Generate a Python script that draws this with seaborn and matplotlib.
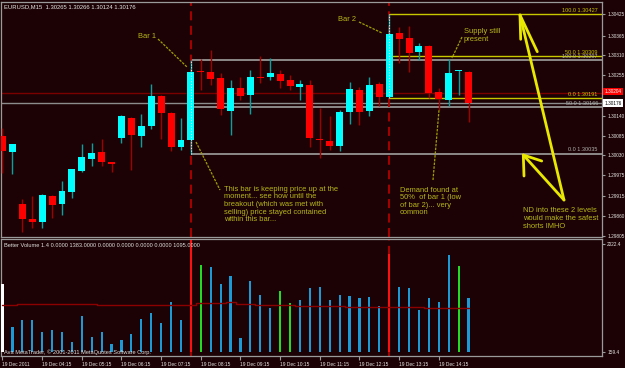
import numpy as np
import pandas as pd
import matplotlib
matplotlib.use("Agg")
import matplotlib.pyplot as plt
import matplotlib.transforms as mtrans
import seaborn as sns

# EURUSD M15, 19 Dec 2011, one bar every 15 minutes starting 03:15
opens = [1.30085, 1.30039, 1.29894, 1.29852, 1.29842, 1.29917, 1.29893, 1.29928, 1.29987, 1.30019,
         1.30038, 1.30012, 1.30078, 1.30136, 1.30085, 1.30111, 1.30195, 1.30150, 1.30054, 1.30073,
         1.30265, 1.30265, 1.30247, 1.30155, 1.30218, 1.30198, 1.30250, 1.30249, 1.30258, 1.30240,
         1.30223, 1.30228, 1.30077, 1.30071, 1.30057, 1.30152, 1.30214, 1.30153, 1.30230, 1.30193,
         1.30373, 1.30359, 1.30319, 1.30337, 1.30208, 1.30184, 1.30266, 1.30265]
highs = [1.30107, 1.30062, 1.29907, 1.29916, 1.29921, 1.29919, 1.29959, 1.29992, 1.30061, 1.30064,
         1.30075, 1.30012, 1.30143, 1.30138, 1.30145, 1.30230, 1.30200, 1.30152, 1.30136, 1.30297,
         1.30300, 1.30326, 1.30262, 1.30242, 1.30249, 1.30270, 1.30309, 1.30303, 1.30270, 1.30256,
         1.30242, 1.30242, 1.30162, 1.30139, 1.30157, 1.30237, 1.30221, 1.30251, 1.30237, 1.30427,
         1.30391, 1.30393, 1.30346, 1.30340, 1.30218, 1.30300, 1.30270, 1.30266]
lows = [1.29981, 1.29978, 1.29816, 1.29827, 1.29827, 1.29855, 1.29863, 1.29911, 1.29984, 1.30000,
        1.30001, 1.29984, 1.30064, 1.29989, 1.30052, 1.30104, 1.30075, 1.30043, 1.30045, 1.30035,
        1.30214, 1.30228, 1.30143, 1.30087, 1.30185, 1.30146, 1.30232, 1.30242, 1.30218, 1.30212,
        1.30185, 1.30054, 1.30022, 1.30045, 1.30043, 1.30118, 1.30115, 1.30139, 1.30169, 1.30191,
        1.30288, 1.30265, 1.30298, 1.30190, 1.30157, 1.30169, 1.30200, 1.30124]
closes = [1.30041, 1.30061, 1.29851, 1.29842, 1.29919, 1.29891, 1.29930, 1.29991, 1.30024, 1.30036,
          1.30010, 1.30007, 1.30139, 1.30087, 1.30111, 1.30195, 1.30148, 1.30054, 1.30073, 1.30265,
          1.30263, 1.30244, 1.30159, 1.30220, 1.30195, 1.30251, 1.30248, 1.30260, 1.30239, 1.30225,
          1.30229, 1.30078, 1.30074, 1.30056, 1.30152, 1.30215, 1.30151, 1.30228, 1.30193, 1.30371,
          1.30356, 1.30318, 1.30337, 1.30206, 1.30188, 1.30262, 1.30267, 1.30176]

# Better Volume histogram + its average
volumes = [1327, 596, 711, 711, 504, 544, 504, 327, 780, 418,
           499, 292, 361, 470, 723, 827, 660, 1022, 711, 2100,
           1660, 1626, 1332, 1465, 396, 1384, 1143, 913, 1212, 1005,
           1051, 1263, 1275, 1051, 1137, 1125, 1096, 1108, 958, 1850,
           1281, 1269, 889, 1091, 1022, 1833, 1643, 1095]
vol_avg = [970, 970, 982, 982, 982, 982, 982, 982, 982, 982,
           970, 970, 970, 970, 970, 970, 970, 970, 970, 970,
           999, 1005, 1010, 1017, 987, 982, 976, 970, 966, 962,
           958, 955, 951, 948, 945, 942, 940, 938, 936, 936,
           941, 941, 941, 918, 918, 918, 918, 918]
vol_kind = ["white"] + ["blue"] * 18 + ["red", "green"] + ["blue"] * 7 + ["green", "green"] + \
           ["blue"] * 9 + ["red"] + ["blue"] * 6 + ["green", "blue"]
vol_min, vol_max = 159.4, 2022.4

time_ticks = [0, 4, 8, 12, 16, 20, 24, 28, 32, 36, 40, 44]
time_labels = ["19 Dec 2011", "19 Dec 04:15", "19 Dec 05:15", "19 Dec 06:15", "19 Dec 07:15",
               "19 Dec 08:15", "19 Dec 09:15", "19 Dec 10:15", "19 Dec 11:15", "19 Dec 12:15",
               "19 Dec 13:15", "19 Dec 14:15"]
price_ticks = [1.30425, 1.30365, 1.30310, 1.30255, 1.30140, 1.30085, 1.30030,
               1.29975, 1.29915, 1.29860, 1.29805]

bar1, bar2 = 19, 39
fib1 = [(100.0, 1.30297), (50.0, 1.30166), (0.0, 1.30035)]
fib2 = [(100.0, 1.30427), (50.0, 1.30309), (0.0, 1.30191)]
ask, bid = 1.30204, 1.30176

BG = "#1c0204"
CYAN, RED = "#00ffff", "#ff0000"
NOTE = "#b8b81a"
GRID = "#9a9a9a"

sns.set_style("dark", {"axes.facecolor": BG, "figure.facecolor": BG})
plt.rcParams["font.family"] = ["Liberation Sans", "DejaVu Sans"]

fig = plt.figure(figsize=(6.25, 3.68), dpi=100)
W, H = 625, 368
ax = fig.add_axes([1 / W, (H - 237) / H, 601 / W, 235 / H])
axv = fig.add_axes([1 / W, (H - 356) / H, 601 / W, 117 / H])
for a in (ax, axv):
    a.set_facecolor(BG)
    a.set_xlim(-0.151, 60.46)
    for s in a.spines.values():
        s.set_color(GRID)
        s.set_linewidth(0.9)

o, h, l, c = map(np.array, (opens, highs, lows, closes))
idx = np.arange(len(o))
up = c >= o

# ---- price panel
ax.set_ylim(1.29801, 1.30460)
ax.axhline(ask, color="#7a0000", lw=1, zorder=1)
ax.axhline(bid, color="#8c8c8c", lw=1, zorder=1)
ax.hlines([p for _, p in fib1], bar1, 61, color="#a0a0a0", lw=1.2, zorder=1)
ax.hlines([p for _, p in fib2], bar2, 61, color="#c8c800", lw=1, zorder=1)
for a in (ax, axv):
    a.axvline(bar1, color="#b40000", lw=1.3, ls=(0, (5, 3)), zorder=1)
    a.axvline(bar2, color="#b40000", lw=1.3, ls=(0, (5, 3)), zorder=1)

ax.vlines(idx[up], l[up], h[up], color="#0aa0a0", lw=1, zorder=3)
ax.vlines(idx[~up], l[~up], h[~up], color="#a00000", lw=1, zorder=3)
bot = np.minimum(o, c)
ht = np.maximum(np.abs(c - o), 0.00003)
ax.bar(idx[up], ht[up], bottom=bot[up], width=0.7, color=CYAN, lw=0, zorder=4)
ax.bar(idx[~up], ht[~up], bottom=bot[~up], width=0.7, color=RED, lw=0, zorder=4)
ax.vlines([bar1, bar2], l[[bar1, bar2]], h[[bar1, bar2]], color="#c8ffff",
          lw=0.8, ls=(0, (1, 1.5)), zorder=5)

trans = mtrans.blended_transform_factory(ax.transAxes, ax.transData)
for lvl, p in fib1:
    ax.text(0.993, p + 0.00003, f"{lvl:.1f} {p:.5f}", transform=trans, ha="right",
            va="bottom", fontsize=4, color="#b0b0b0", zorder=6)
for lvl, p in fib2:
    ax.text(0.993, p + 0.00003, f"{lvl:.1f} {p:.5f}", transform=trans, ha="right",
            va="bottom", fontsize=4, color="#c8c800", zorder=6)

ax.yaxis.tick_right()
ax.set_yticks(price_ticks)
ax.set_yticklabels([f"{p:.5f}" for p in price_ticks])
ax.tick_params(axis="y", right=True, length=2.5, width=0.8, color=GRID, pad=1.2,
               labelsize=3.4, labelcolor="#e6e6e6")
ax.set_xticks([])
ax.text(1.004, ask + 0.00005, f"{ask:.5f}", transform=trans, ha="left", va="center",
        fontsize=3.4, color="white", clip_on=False,
        bbox=dict(boxstyle="square,pad=0.3", fc=RED, ec="none"))
ax.text(1.004, bid, f"{bid:.5f}", transform=trans, ha="left", va="center",
        fontsize=3.4, color="black", clip_on=False,
        bbox=dict(boxstyle="square,pad=0.3", fc="white", ec="none"))

# ---- volume panel
pal = {"blue": "#1a9ad6", "red": "#ff1010", "green": "#22dd22", "white": "#ffffff"}
vol = np.array(volumes, dtype=float)
axv.set_ylim(90.4, 2108.7)
axv.bar(idx, vol - vol_min, bottom=vol_min, width=0.22,
        color=[pal[k] for k in vol_kind], lw=0, zorder=3)
sns.lineplot(x=idx, y=vol_avg, ax=axv, color="#8b0000", lw=1, drawstyle="steps-mid",
             zorder=4, legend=False)
axv.set_xlabel("")
axv.set_ylabel("")
axv.yaxis.tick_right()
axv.set_yticks([vol_min, vol_max])
axv.set_yticklabels([f"{vol_min:.1f}", f"{vol_max:.1f}"])
axv.tick_params(axis="y", right=True, length=2.5, width=0.8, color=GRID, pad=1.2,
                labelsize=3.4, labelcolor="#e6e6e6")
axv.set_xticks(time_ticks)
axv.set_xticklabels(time_labels, ha="left")
axv.tick_params(axis="x", bottom=True, length=3, width=0.8, color=GRID, pad=1,
                labelsize=3.5, labelcolor="#e6e6e6")

# ---- texts and drawings, placed in screen pixels
ov = fig.add_axes([0, 0, 1, 1], facecolor="none")
ov.set_xlim(0, W)
ov.set_ylim(H, 0)
ov.axis("off")

ov.text(4, 6.5, "EURUSD,M15  1.30265 1.30266 1.30124 1.30176", fontsize=4.2,
        color="#e8e8e8", va="center")
ov.text(4, 245.5, "Better Volume 1.4 0.0000 1383.0000 0.0000 0.0000 0.0000 0.0000 1095.0000",
        fontsize=4.1, color="#e0e0e0", va="center")
ov.text(4, 352, "Ava MetaTrader, \u00a9 2001-2011 MetaQuotes Software Corp.", fontsize=4.1,
        color="#e0e0e0", va="center")

notes = [
    (138, 36, "Bar 1"),
    (338, 19.5, "Bar 2"),
    (464, 35.5, "Supply still\npresent"),
    (224, 204.5, "This bar is keeping price up at the\nmoment... see how until the\n"
                 "breakout (which was met with\nselling) price stayed contained\nwithin this bar..."),
    (400, 201.5, "Demand found at\n50%  of bar 1 (low\nof bar 2)... very\ncommon"),
    (523, 218.5, "ND into these 2 levels\nwould make the safest\nshorts IMHO"),
]
for x, y, s in notes:
    ov.text(x, y, s, fontsize=5.4, color=NOTE, va="center", ha="left", linespacing=1.1)

pointers = [((158, 39), (187, 67)), ((359, 22), (382, 33)), ((462, 37), (452, 58)),
            ((196, 142), (220, 190)), ((433, 180), (439, 110))]
for (x0, y0), (x1, y1) in pointers:
    ov.plot([x0, x1], [y0, y1], color="#a0a000", lw=0.9, ls=(0, (2, 1)))

YEL = "#e8e800"
ov.plot([564, 520], [200, 15], color=YEL, lw=2, solid_capstyle="round")
ov.plot([520.7, 520, 537.3], [39.3, 15, 51.7], color=YEL, lw=2, solid_capstyle="round")
ov.plot([564, 523.3], [200, 155], color=YEL, lw=2, solid_capstyle="round")
ov.plot([524, 523.3, 541.7], [176, 155, 161], color=YEL, lw=2, solid_capstyle="round")

fig.savefig("out.png", dpi=100, facecolor=BG)
